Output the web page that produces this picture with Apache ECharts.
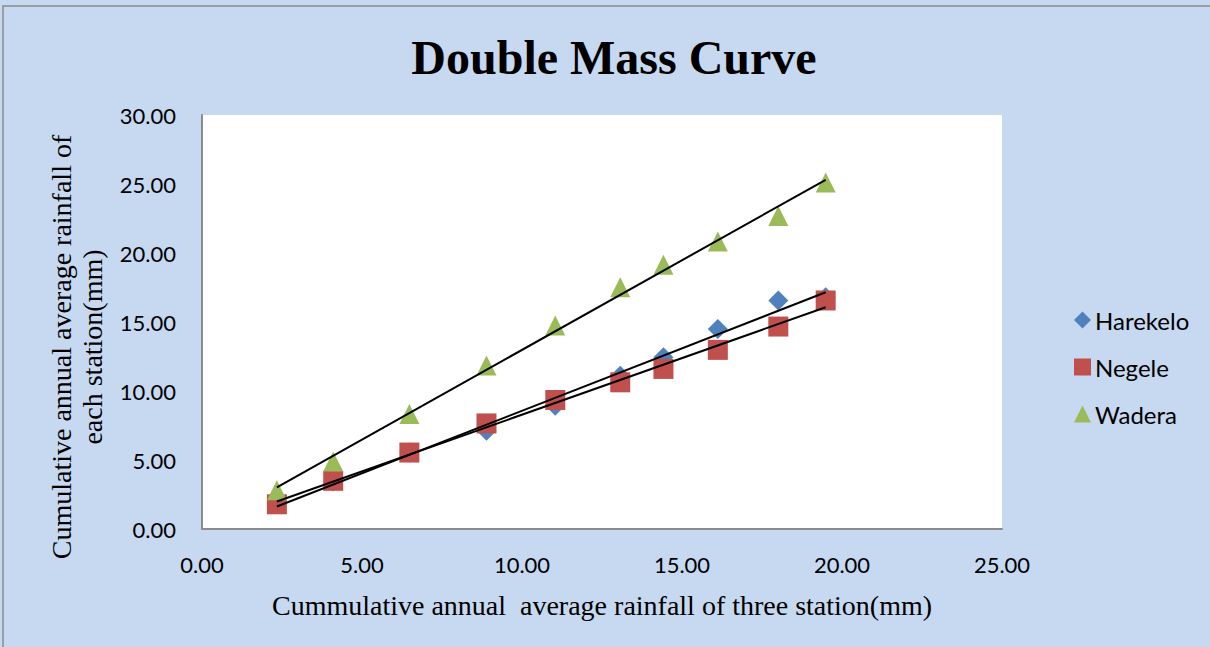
<!DOCTYPE html>
<html>
<head>
<meta charset="utf-8">
<script src="https://cdn.jsdelivr.net/npm/echarts@6/dist/echarts.min.js"></script>
<style>
html,body{margin:0;padding:0;background:#fff;}
#c{width:1210px;height:647px;}
</style>
</head>
<body>
<div id="c"></div>
<script>
var xValues = [2.34, 4.10, 6.48, 8.89, 11.04, 13.07, 14.42, 16.12, 18.01, 19.49];
var harekelo = [1.85, 3.45, 5.55, 7.12, 8.93, 11.11, 12.44, 14.50, 16.56, 16.80];
var negele = [1.79, 3.49, 5.54, 7.65, 9.35, 10.63, 11.60, 12.98, 14.67, 16.56];
var wadera = [2.81, 4.89, 8.33, 11.84, 14.74, 17.52, 19.15, 20.84, 22.69, 25.10];
var seriesNames = ['Harekelo', 'Negele', 'Wadera'];
var xTicks = [0, 5, 10, 15, 20, 25];
var yTicks = [0, 5, 10, 15, 20, 25, 30];

function pairs(ys) { return xValues.map(function (x, i) { return [x, ys[i]]; }); }
function trend(ys) {
  var n = xValues.length, mx = 0, my = 0;
  for (var i = 0; i < n; i++) { mx += xValues[i]; my += ys[i]; }
  mx /= n; my /= n;
  var sxy = 0, sxx = 0;
  for (var j = 0; j < n; j++) { sxy += (xValues[j] - mx) * (ys[j] - my); sxx += (xValues[j] - mx) * (xValues[j] - mx); }
  var b = sxy / sxx, a = my - b * mx;
  var x0 = Math.min.apply(null, xValues), x1 = Math.max.apply(null, xValues);
  return [[x0, a + b * x0], [x1, a + b * x1]];
}

var chart = echarts.init(document.getElementById('c'), null, {renderer: 'svg'});
var labelFont = 'Lato, "Open Sans", sans-serif';
var serif = '"Liberation Serif", "DejaVu Serif", serif';
var colors = ['#4F81BD', '#C0504D', '#9BBB59'];
var symbols = ['diamond', 'rect', 'triangle'];
var dataSets = [harekelo, negele, wadera];

var series = [];
dataSets.forEach(function (d, i) {
  series.push({
    name: seriesNames[i], type: 'scatter', data: pairs(d),
    symbol: symbols[i], symbolSize: 20,
    itemStyle: {color: colors[i], opacity: 1},
    z: 2 + i, emphasis: {disabled: true}
  });
});
dataSets.forEach(function (d, i) {
  series.push({
    name: seriesNames[i] + ' trend', type: 'line', data: trend(d),
    symbol: 'none', lineStyle: {color: '#000', width: 2},
    z: 10, silent: true
  });
});

chart.setOption({
  backgroundColor: '#C6D9F1',
  animation: false,
  grid: {left: 202, top: 115, width: 800, height: 414, containLabel: false,
         show: true, backgroundColor: '#fff', borderWidth: 0},
  xAxis: {
    type: 'value', min: xTicks[0], max: xTicks[xTicks.length - 1], interval: 5,
    axisLine: {show: true, lineStyle: {color: '#8c8c8c', width: 2}},
    axisTick: {show: false}, splitLine: {show: false},
    axisLabel: {color: '#000', fontFamily: labelFont, fontSize: 22, margin: 24,
                formatter: function (v) { return v.toFixed(2); }}
  },
  yAxis: {
    type: 'value', min: yTicks[0], max: yTicks[yTicks.length - 1], interval: 5,
    axisLine: {show: true, lineStyle: {color: '#8c8c8c', width: 2}},
    axisTick: {show: false}, splitLine: {show: false},
    axisLabel: {color: '#000', fontFamily: labelFont, fontSize: 22, margin: 26,
                formatter: function (v) { return v.toFixed(2); }}
  },
  legend: {
    orient: 'vertical', left: 1069, top: 303,
    itemWidth: 17, itemHeight: 17, itemGap: 23,
    textStyle: {color: '#000', fontFamily: labelFont, fontSize: 24, padding: [0, 0, 0, -1]},
    data: seriesNames.map(function (n, i) { return {name: n, icon: symbols[i], itemStyle: {color: colors[i]}}; })
  },
  graphic: [
    {type: 'rect', shape: {x: 3, y: 6, width: 1215, height: 650}, style: {fill: 'none', stroke: '#8c8c8c', lineWidth: 1.5}, silent: true},
    {type: 'text', x: 614, y: 57, style: {text: 'Double Mass Curve', font: 'bold 48px ' + serif, fill: '#000', textAlign: 'center', textVerticalAlign: 'middle'}},
    {type: 'text', x: 602, y: 605, style: {text: 'Cummulative annual  average rainfall of three station(mm)', font: '28px ' + serif, fill: '#000', textAlign: 'center', textVerticalAlign: 'middle'}},
    {type: 'text', x: 77, y: 347, rotation: Math.PI / 2, style: {text: 'Cumulative annual average rainfall of\neach station(mm)', font: '28px ' + serif, lineHeight: 31, fill: '#000', textAlign: 'center', textVerticalAlign: 'middle'}}
  ],
  series: series
});
</script>
</body>
</html>
